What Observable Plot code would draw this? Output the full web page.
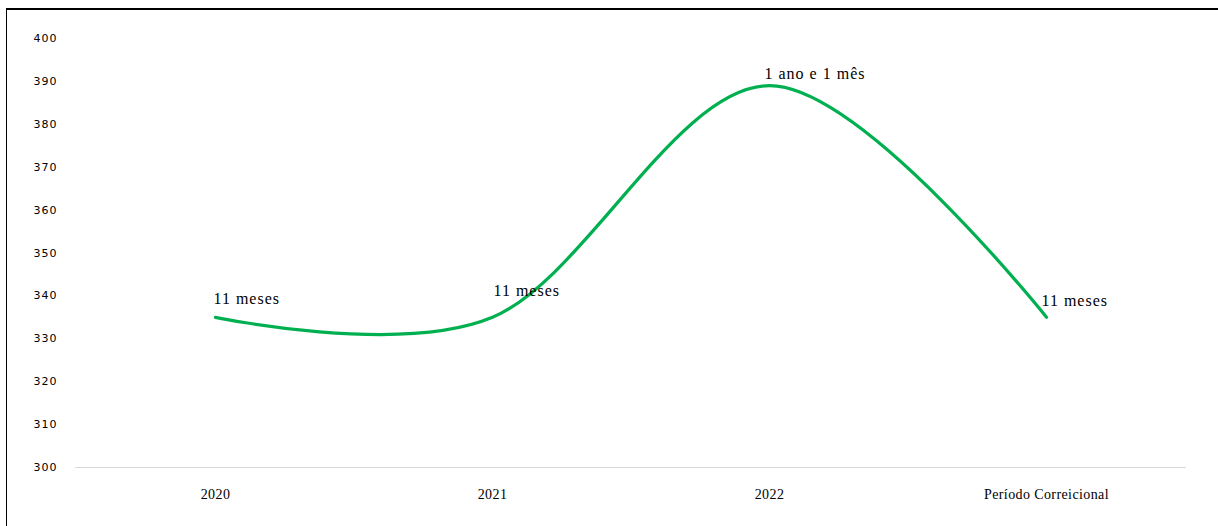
<!DOCTYPE html>
<html lang="pt">
<head>
<meta charset="utf-8">
<script src="https://cdn.jsdelivr.net/npm/d3@7"></script>
<script src="https://cdn.jsdelivr.net/npm/@observablehq/plot@0.6"></script>
<style>
  html, body { margin: 0; padding: 0; background: #fff; }
  #wrap { position: relative; width: 1218px; height: 526px; overflow: hidden; }
  #frame {
    position: absolute; left: 6px; top: 8px; right: -4px; bottom: -4px;
    border-top: 2px solid #000; border-left: 1.5px solid #000;
    pointer-events: none;
  }
  #chart svg { display: block; }
  .rotulo text { letter-spacing: 1px; }
  .eixo-y text { letter-spacing: 1px; }
  .eixo-x text { letter-spacing: 0.4px; }
</style>
</head>
<body>
<div id="wrap">
  <div id="chart"></div>
  <div id="frame"></div>
</div>
<script>
// Duração em dias por período, com o rótulo descritivo de cada ponto
const periodos = ["2020", "2021", "2022", "Período Correicional"];
const dias = [335, 335, 389, 335];
const rotulos = ["11 meses", "11 meses", "1 ano e 1 mês", "11 meses"];
const yTicks = [300, 310, 320, 330, 340, 350, 360, 370, 380, 390, 400];

const dados = periodos.map((p, i) => ({periodo: p, dias: dias[i], rotulo: rotulos[i], i}));

// deslocamento de cada rótulo em relação ao seu ponto
const ajustes = [
  {dx: -2, dy: -13},
  {dx: 1, dy: -21},
  {dx: -5, dy: -7},
  {dx: -5, dy: -11}
];

const serif = "'Liberation Serif', 'Times New Roman', serif";

const labelMarks = ajustes.map((a, k) =>
  Plot.text(dados, {
    filter: d => d.i === k,
    x: "periodo",
    y: "dias",
    text: "rotulo",
    textAnchor: "start",
    lineAnchor: "bottom",
    dx: a.dx,
    dy: a.dy,
    fill: "#000",
    fontSize: 16,
    fontFamily: serif,
    className: "rotulo"
  })
);

const chart = Plot.plot({
  width: 1218,
  height: 526,
  marginLeft: 75,
  marginRight: 32,
  marginTop: 38,
  marginBottom: 59,
  style: {background: "transparent", overflow: "visible"},
  x: {type: "point", domain: periodos, padding: 0.5, label: null},
  y: {domain: [300, 400], label: null},
  marks: [
    Plot.ruleY([300], {stroke: "#d9d9d9", strokeWidth: 1.2}),
    Plot.axisY({
      ticks: yTicks,
      tickSize: 0,
      tickPadding: 18,
      fontSize: 11,
      fontFamily: "'DejaVu Sans', sans-serif",
      fill: "#000",
      className: "eixo-y"
    }),
    Plot.axisX({
      tickSize: 0,
      tickPadding: 22,
      fontSize: 14,
      fontFamily: serif,
      fill: "#000",
      className: "eixo-x"
    }),
    Plot.line(dados, {
      x: "periodo",
      y: "dias",
      curve: "cardinal",
      tension: 0,
      stroke: "#00b050",
      strokeWidth: 3.2,
      strokeLinecap: "round"
    }),
    ...labelMarks
  ]
});

document.getElementById("chart").appendChild(chart);
</script>
</body>
</html>
